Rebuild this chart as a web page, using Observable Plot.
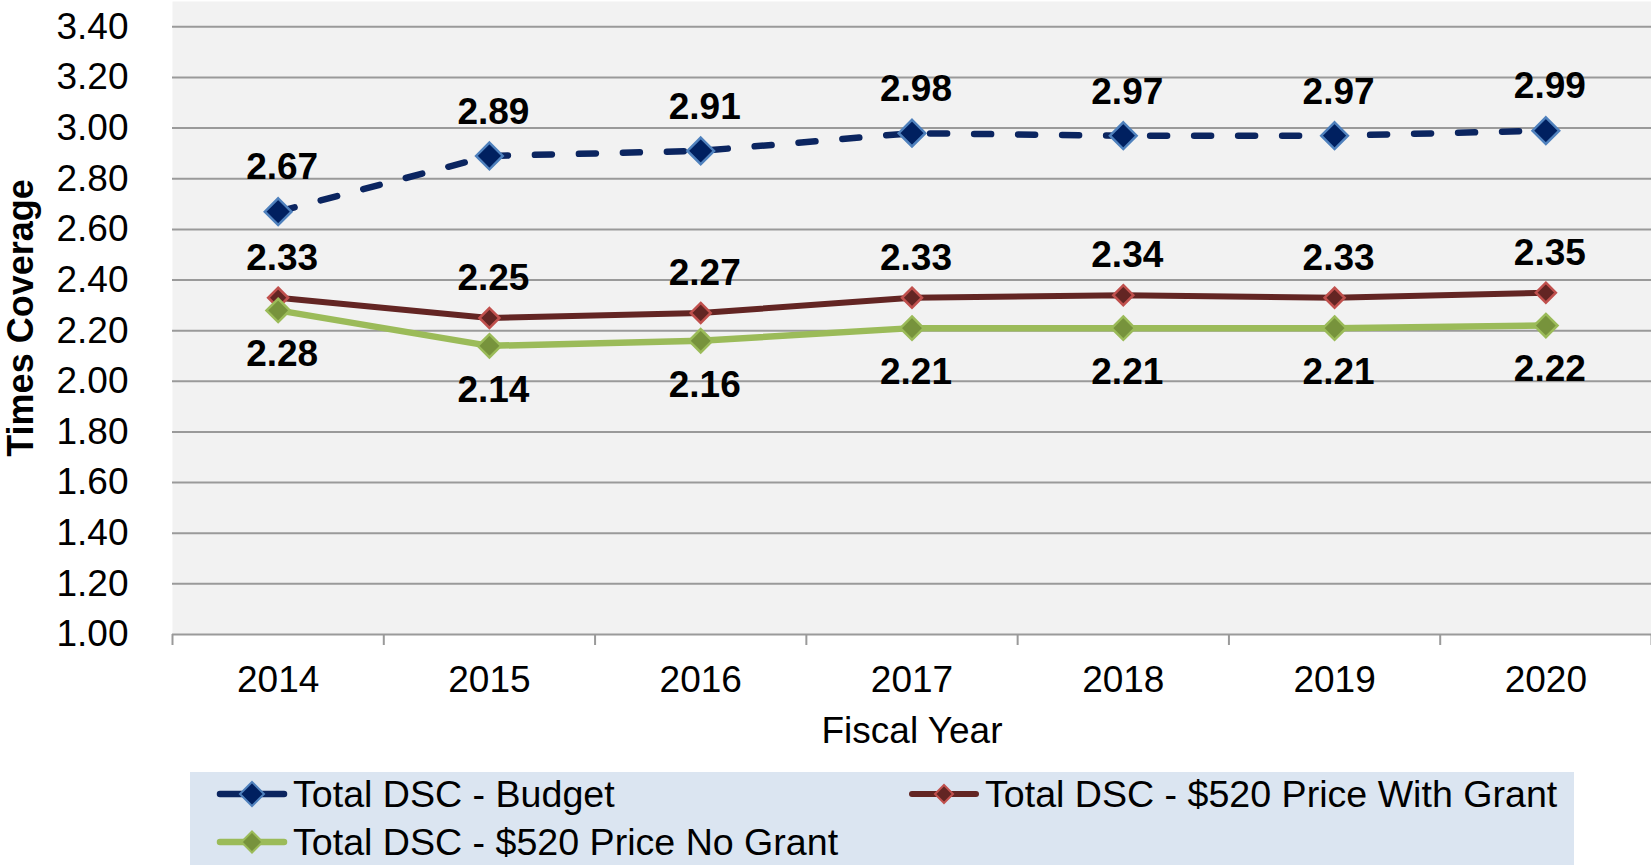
<!DOCTYPE html>
<html><head><meta charset="utf-8">
<script src="https://cdn.jsdelivr.net/npm/d3@7"></script>
<script src="https://cdn.jsdelivr.net/npm/@observablehq/plot@0.6"></script>
<style>
body{margin:0;background:#fff;font-family:"Liberation Sans",Arial,sans-serif;}
#chart{position:relative;width:1651px;height:865px;overflow:hidden;}
#legend{position:absolute;left:190px;top:772px;width:1384px;height:93px;background:#dbe5f1;}
.item{position:absolute;display:flex;align-items:center;font-size:37.6px;color:#000;height:48px;white-space:nowrap;}
.item svg{margin-right:5px;}
</style></head><body><div id="chart"></div>
<script>
const years = [2014, 2015, 2016, 2017, 2018, 2019, 2020];
const budget = [2.67, 2.89, 2.91, 2.98, 2.97, 2.97, 2.99];
const withGrant = [2.33, 2.25, 2.27, 2.33, 2.34, 2.33, 2.35];
const noGrant = [2.28, 2.14, 2.16, 2.21, 2.21, 2.21, 2.22];
const yTicks = [1.0, 1.2, 1.4, 1.6, 1.8, 2.0, 2.2, 2.4, 2.6, 2.8, 3.0, 3.2, 3.4];
const seriesNames = ["Total DSC - Budget", "Total DSC - $520 Price With Grant", "Total DSC - $520 Price No Grant"];

const styles = [
  {line:"#0b2560", fill:"#002060", edge:"#4f81bd", width:6.5, dash:"17,27", r:12, dy:-44},
  {line:"#632523", fill:"#632523", edge:"#c0504d", width:6, dash:null, r:9, dy:-40},
  {line:"#9bbb59", fill:"#77933c", edge:"#9bbb59", width:6.5, dash:null, r:10.5, dy:44}
];
const valuesBySeries = [budget, withGrant, noGrant];
const rows = [];
valuesBySeries.forEach((vals, s) => vals.forEach((v, i) => rows.push({series: s, year: years[i], value: v})));
const boundaries = years.map(y => y - 0.5).concat([years[years.length - 1] + 0.5]);
const FS = 37;

const marks = [
  Plot.frame({fill: "#f2f2f2", stroke: null}),
  Plot.gridY(yTicks.slice(1), {stroke: "#9a9a9a", strokeOpacity: 1, strokeWidth: 2}),
  Plot.axisY(yTicks, {tickSize: 0, tickPadding: 44, tickFormat: d => d.toFixed(2), fontSize: FS, label: null}),
  Plot.ruleY([yTicks[0]], {stroke: "#9a9a9a", strokeWidth: 2}),
  Plot.axisX(boundaries, {tickSize: 11, tickFormat: () => "", stroke: "#9a9a9a", strokeWidth: 2, label: null}),
  Plot.axisX(years, {tickSize: 0, tickPadding: 31, tickFormat: d => String(d), fontSize: FS, label: null}),
  Plot.text(["Fiscal Year"], {frameAnchor: "bottom", dy: 108, fontSize: FS}),
  Plot.text(["Times Coverage"], {frameAnchor: "left", textAnchor: "middle", rotate: -90, dx: -151, fontSize: 36, fontWeight: "bold"})
];
styles.forEach((st, s) => {
  const d = rows.filter(r => r.series === s);
  marks.push(Plot.line(d, {x: "year", y: "value", stroke: st.line, strokeWidth: st.width, strokeDasharray: st.dash, strokeLinecap: "round", strokeLinejoin: "round"}));
});
styles.forEach((st, s) => {
  const d = rows.filter(r => r.series === s);
  marks.push(Plot.dot(d, {x: "year", y: "value", symbol: "diamond2", r: st.r, fill: st.fill, stroke: st.edge, strokeWidth: 2.5}));
  marks.push(Plot.text(d, {x: "year", y: "value", text: r => r.value.toFixed(2), dx: 4, dy: st.dy, fontSize: FS, fontWeight: "bold", fill: "#000"}));
});

const plot = Plot.plot({
  width: 1651, height: 765,
  marginLeft: 172, marginRight: 0, marginTop: 1, marginBottom: 131,
  style: {fontFamily: '"Liberation Sans", Arial, sans-serif', fontSize: FS + "px", background: "transparent", color: "#000", overflow: "visible"},
  x: {domain: [years[0] - 0.5, years[years.length - 1] + 0.5], axis: null},
  y: {domain: [1, 3.5], axis: null},
  marks
});
const chart = document.getElementById("chart");
chart.appendChild(plot);

const legend = document.createElement("div");
legend.id = "legend";
chart.appendChild(legend);
const pos = [{left: 26, top: -2}, {left: 718, top: -2}, {left: 26, top: 46}];
const legendOrder = [0, 1, 2];
legendOrder.forEach((s, k) => {
  const st = styles[s];
  const item = document.createElement("div");
  item.className = "item";
  item.style.left = pos[k].left + "px";
  item.style.top = pos[k].top + "px";
  const h = st.r * 1.0;
  item.innerHTML = `<svg width="72" height="30" viewBox="0 0 72 30"><line x1="4" y1="15" x2="68" y2="15" stroke="${st.line}" stroke-width="${st.width}" stroke-linecap="round"/><path d="M36 ${15-h}L${36+h} 15L36 ${15+h}L${36-h} 15Z" fill="${st.fill}" stroke="${st.edge}" stroke-width="2"/></svg><span>${seriesNames[s]}</span>`;
  legend.appendChild(item);
});
</script></body></html>
